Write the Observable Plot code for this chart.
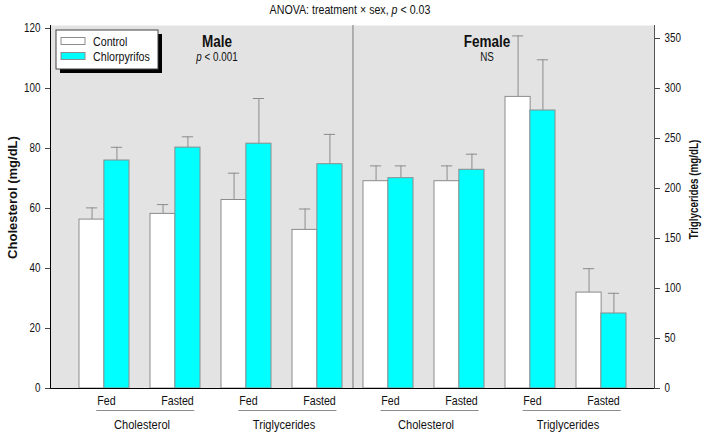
<!DOCTYPE html>
<html>
<head>
<meta charset="utf-8">
<script src="https://cdn.jsdelivr.net/npm/d3@7"></script>
<script src="https://cdn.jsdelivr.net/npm/@observablehq/plot@0.6"></script>
<style>
  html, body { margin: 0; padding: 0; background: #fff; }
  #chart svg { display: block; }
</style>
</head>
<body>
<div id="chart"></div>
<script>
// ---- data ----
const groups     = ["M-Chol-Fed", "M-Chol-Fasted", "M-TG-Fed", "M-TG-Fasted", "F-Chol-Fed", "F-Chol-Fasted", "F-TG-Fed", "F-TG-Fasted"];
const sexes      = ["Male", "Male", "Male", "Male", "Female", "Female", "Female", "Female"];
const measures   = ["Cholesterol", "Cholesterol", "Triglycerides", "Triglycerides", "Cholesterol", "Cholesterol", "Triglycerides", "Triglycerides"];
const conditions = ["Fed", "Fasted", "Fed", "Fasted", "Fed", "Fasted", "Fed", "Fasted"];
// cholesterol in mg/dL (left axis), triglycerides in mg/dL (right axis)
const controlMean = [56.3, 58.2, 188.5, 158.6, 69.1, 69.1, 291.6, 95.9];
const controlSE   = [3.9, 3.1, 26.8, 20.9, 5.1, 5.1, 61.0, 23.9];
const chlorMean   = [76.0, 80.3, 244.8, 224.3, 70.1, 72.9, 278.0, 75.0];
const chlorSE     = [4.4, 3.6, 45.2, 29.8, 4.1, 5.2, 50.7, 20.2];
const treatments  = ["Control", "Chlorpyrifos"];
const cholTicks   = [0, 20, 40, 60, 80, 100, 120];
const tgTicks     = [0, 50, 100, 150, 200, 250, 300, 350];
const tgFactor    = 3; // right axis = 3 x left axis

// ---- layout ----
const W = 709, H = 433, ML = 50, MR = 55, MT = 25, MB = 45;
const FONT = "'Liberation Sans', Arial, sans-serif";
const NARROW = 0.82; // condense Liberation Sans to mimic a narrow face
const GRAY = "#8c8c8c";
const CYAN = "#00ffff";

const xBand = d3.scaleBand().domain(groups).range([ML, W - MR]).paddingInner(0.3).paddingOuter(0.4);
const step = xBand.step(), bw = xBand.bandwidth(), half = bw / 2, q = bw / 4;
const capHalf = 5.5;

const toY = (m, v) => m === "Triglycerides" ? v / tgFactor : v;
const rows = groups.map((g, i) => ({
  g,
  sex: sexes[i], measure: measures[i], cond: conditions[i],
  cy: toY(measures[i], controlMean[i]),
  cu: toY(measures[i], controlMean[i] + controlSE[i]),
  hy: toY(measures[i], chlorMean[i]),
  hu: toY(measures[i], chlorMean[i] + chlorSE[i])
}));
const condOf = Object.fromEntries(groups.map((g, i) => [g, conditions[i]]));
const cats = [0, 2, 4, 6].map(i => ({g: groups[i], g2: groups[i + 1], label: measures[i]}));

const plot = Plot.plot({
  width: W, height: H,
  marginLeft: ML, marginRight: MR, marginTop: MT, marginBottom: MB,
  style: {fontFamily: FONT, fontSize: "12px", background: "#fff", color: "#111"},
  x: {domain: groups, paddingInner: 0.3, paddingOuter: 0.4, axis: null},
  y: {domain: [0, 121], axis: null},
  marks: [
    Plot.frame({fill: "#e3e3e3", stroke: null}),
    Plot.ruleX([groups[4]], {dx: -step / 2, stroke: "#7a7a7a"}),
    // error bars
    Plot.ruleX(rows, {x: "g", y1: "cy", y2: "cu", dx: -q, stroke: GRAY}),
    Plot.ruleX(rows, {x: "g", y1: "hy", y2: "hu", dx: q, stroke: GRAY}),
    Plot.tickY(rows, {x: "g", y: "cu", stroke: GRAY, insetLeft: q - capHalf, insetRight: bw - q - capHalf}),
    Plot.tickY(rows, {x: "g", y: "hu", stroke: GRAY, insetLeft: bw - q - capHalf, insetRight: q - capHalf}),
    // bars
    Plot.barY(rows, {x: "g", y: "cy", fill: "white", stroke: GRAY, insetRight: half}),
    Plot.barY(rows, {x: "g", y: "hy", fill: CYAN, stroke: GRAY, insetLeft: half}),
    // axes
    Plot.ruleY([0], {stroke: "#000"}),
    Plot.frame({anchor: "left", stroke: "#000"}),
    Plot.frame({anchor: "right", stroke: "#555"}),
    Plot.axisY({anchor: "left", ticks: cholTicks, tickSize: 5, tickPadding: 5, label: null, fontSize: 12, stroke: "#444"}),
    Plot.axisY({anchor: "right", ticks: tgTicks.map(v => v / tgFactor), tickFormat: d => Math.round(d * tgFactor),
                tickSize: 5, tickPadding: 5, label: null, fontSize: 12, stroke: "#444"}),
    Plot.axisX({anchor: "bottom", tickSize: 0, tickPadding: 7, tickFormat: d => condOf[d], label: null, fontSize: 13, dx: 2}),
    Plot.text(cats, {x: "g", text: "label", frameAnchor: "bottom", dx: step / 2 + 2, dy: 36.5, lineAnchor: "middle", fontSize: 13.5})
  ]
});

document.getElementById("chart").appendChild(plot);

// ---- annotations (added to the same SVG) ----
const svg = d3.select(plot);
const centre = g => xBand(g) + bw / 2;

// centred text made of runs (e.g. an italic "p"), condensed as a group
function rich(x, y, size, parts, weight) {
  const g = svg.append("g").attr("transform", `translate(${x},${y}) scale(${NARROW},1)`);
  const els = parts.map(p => {
    const t = g.append("text").attr("y", 0).attr("text-anchor", "start")
      .attr("font-family", FONT).attr("font-size", size).attr("fill", "#111")
      .attr("font-weight", weight || "normal").style("white-space", "pre")
      .classed("nocondense", true).text(p.text);
    if (p.italic) t.attr("font-style", "italic");
    return t;
  });
  const widths = els.map(t => t.node().getComputedTextLength());
  let cx = -d3.sum(widths) / 2;
  els.forEach((t, i) => { t.attr("x", cx.toFixed(2)); cx += widths[i]; });
}

// under-lines of category labels
svg.append("g").attr("stroke", "#8c8c8c").attr("stroke-width", 1)
  .selectAll("line").data(cats).join("line")
  .attr("x1", d => centre(d.g) - 7).attr("x2", d => centre(d.g2) + 20)
  .attr("y1", 410.5).attr("y2", 410.5);

// title
rich(350, 14, 13, [{text: "ANOVA: treatment × sex, "}, {text: "p", italic: true}, {text: " < 0.03"}]);

// panel labels
rich(217, 46.5, 16.5, [{text: "Male"}], "bold");
rich(217, 61, 12, [{text: "p", italic: true}, {text: " < 0.001"}]);
rich(487, 46.5, 16.5, [{text: "Female"}], "bold");
rich(487, 61, 12, [{text: "NS"}]);

// axis titles
svg.append("text").attr("class", "nocondense").attr("transform", "translate(16.5,197.5) rotate(-90)").attr("text-anchor", "middle")
  .attr("font-family", FONT).attr("font-weight", "bold").attr("font-size", 13)
  .attr("fill", "#111").text("Cholesterol (mg/dL)");
svg.append("text").attr("transform", "translate(698,189.5) rotate(-90)").attr("text-anchor", "middle")
  .attr("font-family", FONT).attr("font-weight", "bold").attr("font-size", 12)
  .attr("fill", "#111").text("Triglycerides (mg/dL)");

// legend
const lg = svg.append("g").attr("transform", "translate(56,30)");
lg.append("rect").attr("x", 4).attr("y", 4).attr("width", 102).attr("height", 39).attr("fill", "#000");
lg.append("rect").attr("x", 0).attr("y", 0).attr("width", 102).attr("height", 39).attr("fill", "#fff").attr("stroke", "#444");
treatments.forEach((name, i) => {
  lg.append("rect").attr("x", 5).attr("y", 7.5 + i * 15).attr("width", 24).attr("height", 7)
    .attr("fill", i === 0 ? "#fff" : CYAN).attr("stroke", GRAY);
  lg.append("text").attr("x", 37).attr("y", 16 + i * 15).attr("text-anchor", "start")
    .attr("font-family", FONT).attr("font-size", 13).attr("fill", "#111").text(name);
});

// condense remaining texts horizontally (narrow typeface look)
plot.querySelectorAll("text").forEach(t => {
  if (t.classList.contains("nocondense")) return;
  const len = t.getComputedTextLength();
  if (len > 0) {
    t.setAttribute("textLength", (len * NARROW).toFixed(2));
    t.setAttribute("lengthAdjust", "spacingAndGlyphs");
  }
});
</script>
</body>
</html>
